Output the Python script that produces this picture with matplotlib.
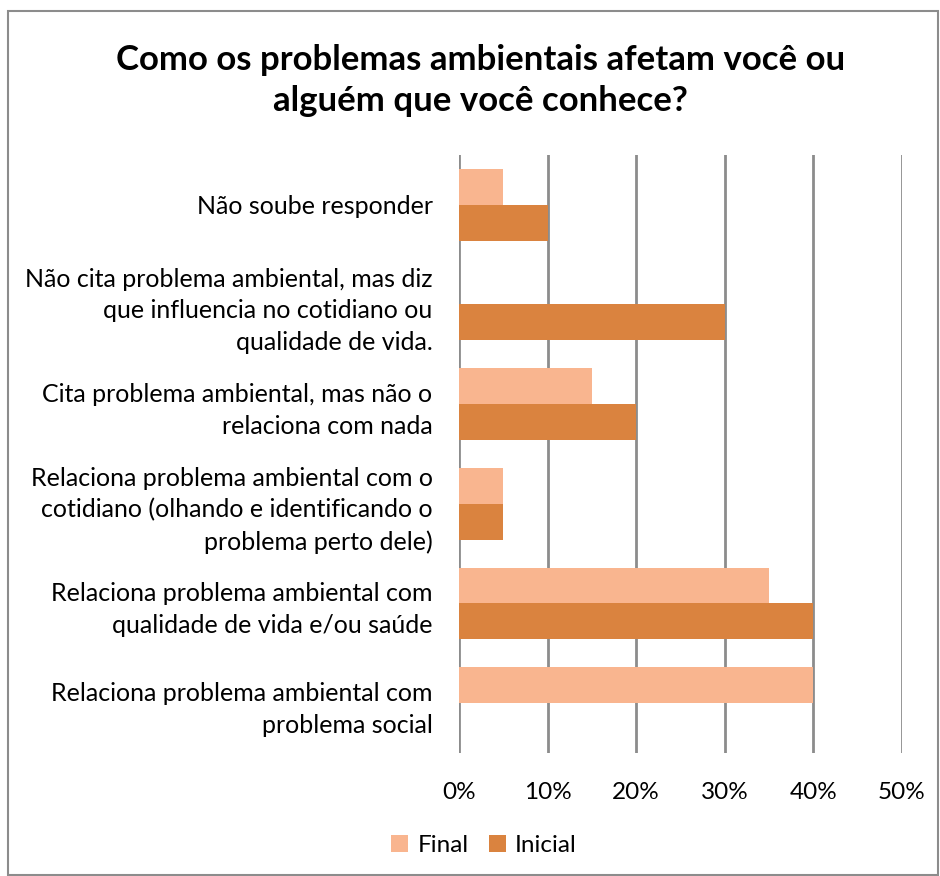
import matplotlib.pyplot as plt
import numpy as np
from matplotlib.patches import Rectangle

categories = [
    'Não soube responder',
    'Não cita problema ambiental, mas diz\nque influencia no cotidiano ou\nqualidade de vida.',
    'Cita problema ambiental, mas não o\nrelaciona com nada',
    'Relaciona problema ambiental com o\ncotidiano (olhando e identificando o\nproblema perto dele)',
    'Relaciona problema ambiental com\nqualidade de vida e/ou saúde',
    'Relaciona problema ambiental com\nproblema social',
]
final = [5, 0, 15, 5, 35, 40]
inicial = [10, 30, 20, 5, 40, 0]
xticks = [0, 10, 20, 30, 40, 50]

plt.rcParams['font.family'] = ['Lato', 'DejaVu Sans']

fig = plt.figure(figsize=(9.4, 8.76), dpi=100)
ax = fig.add_axes([0.4883, 0.1404, 0.4713, 0.6827])

y = np.arange(len(categories))
h = 0.36
ax.barh(y - h / 2, final, height=h, color='#F9B58F', label='Final', zorder=3)
ax.barh(y + h / 2, inicial, height=h, color='#DA833F', label='Inicial', zorder=3)

ax.set_ylim(len(categories) - 0.5, -0.5)
ax.set_xlim(0, 50)
ax.set_yticks(y)
ax.set_yticklabels(categories, fontsize=18, linespacing=1.45)
ax.set_xticks(xticks)
ax.set_xticklabels([f'{v}%' for v in xticks], fontsize=17.5)
ax.tick_params(axis='both', length=0)
ax.tick_params(axis='y', pad=19)
ax.tick_params(axis='x', pad=21)
for s in ax.spines.values():
    s.set_visible(False)
ax.grid(axis='x', color='#8C8C8C', linewidth=2, zorder=0)

fig.text(0.511, 0.908, 'Como os problemas ambientais afetam você ou\nalguém que você conhece?',
         ha='center', va='center', fontsize=25, fontweight='bold', linespacing=1.35)

fig.legend(loc='center', bbox_to_anchor=(0.515, 0.035), ncol=2, frameon=False,
           fontsize=17.5, handlelength=0.7, handleheight=0.7, handletextpad=0.4,
           columnspacing=0.8)

fig.patches.append(Rectangle((0.008, 0.001), 0.99, 0.986, transform=fig.transFigure,
                             fill=False, edgecolor='#8C8C8C', linewidth=1.5))

fig.savefig('out.png', dpi=100)
